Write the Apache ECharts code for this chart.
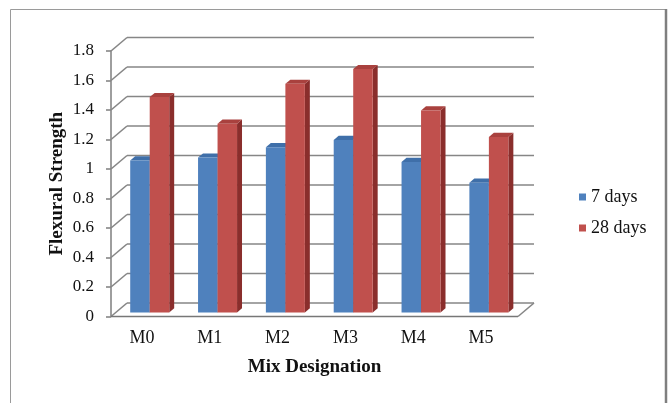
<!DOCTYPE html>
<html>
<head>
<meta charset="utf-8">
<script src="https://cdn.jsdelivr.net/npm/echarts@6/dist/echarts.min.js"></script>
<style>
  html, body { margin: 0; padding: 0; background: #fff; }
  #chart { width: 668px; height: 403px; }
</style>
</head>
<body>
<div id="chart"></div>
<script>
// Flexural strength by mix designation
const categories = ['M0', 'M1', 'M2', 'M3', 'M4', 'M5'];
const days7 = [1.03, 1.05, 1.12, 1.17, 1.02, 0.88];
const days28 = [1.46, 1.28, 1.55, 1.65, 1.37, 1.19];
const yTicks = [0, 0.2, 0.4, 0.6, 0.8, 1, 1.2, 1.4, 1.6, 1.8];

// depth of the 3D box (back wall offset from the front plane)
const DEPTH_X = 16, DEPTH_Y = -13.5;
// bars sit between these fractions of the depth
const BAR_FRONT = 0.3, BAR_BACK = 0.61;
const BAR_RATIO = 0.2875;

const FONT = '"Liberation Serif", "Times New Roman", serif';

const palette = [
  { front: '#4F81BD', top: '#3F6FA9', side: '#2F5582' },
  { front: '#C0504D', top: '#A9413E', side: '#8A2E2C' }
];

function barRenderer(seriesIdx) {
  return function (params, api) {
    const cat = api.value(0);
    const val = api.value(1);
    const base = api.coord([cat, 0]);
    const top = api.coord([cat, val]);
    const band = api.size([1, 0])[0];
    const w = band * BAR_RATIO;
    const x0 = base[0] - w + seriesIdx * w;
    const x1 = x0 + w;
    const fx = DEPTH_X * BAR_FRONT, fy = DEPTH_Y * BAR_FRONT;
    const bx = DEPTH_X * BAR_BACK, by = DEPTH_Y * BAR_BACK;
    const yb = base[1], yt = top[1];
    const c = palette[seriesIdx];
    return {
      type: 'group',
      children: [
        { type: 'polygon', shape: { points: [[x1 + fx, yt + fy], [x1 + bx, yt + by], [x1 + bx, yb + by], [x1 + fx, yb + fy]] }, style: { fill: c.side } },
        { type: 'polygon', shape: { points: [[x0 + fx, yt + fy], [x1 + fx, yt + fy], [x1 + bx, yt + by], [x0 + bx, yt + by]] }, style: { fill: c.top } },
        { type: 'rect', shape: { x: x0 + fx, y: yt + fy, width: w, height: yb - yt }, style: { fill: c.front } }
      ]
    };
  };
}

// back wall gridlines, slanted ticks and floor
function wallRenderer(params, api) {
  const cs = params.coordSys;
  const v = api.value(1);
  const y = api.coord([0, v])[1];
  const left = cs.x, right = cs.x + cs.width;
  const lineStyle = { stroke: '#868686', lineWidth: 1.6 };
  const children = [
    { type: 'line', shape: { x1: left + DEPTH_X, y1: y + DEPTH_Y, x2: right + DEPTH_X, y2: y + DEPTH_Y }, style: lineStyle },
    { type: 'line', shape: { x1: left, y1: y, x2: left + DEPTH_X, y2: y + DEPTH_Y }, style: lineStyle }
  ];
  if (v === 0) {
    children.push(
      { type: 'line', shape: { x1: left, y1: y, x2: right, y2: y }, style: { stroke: '#777', lineWidth: 1.6 } },
      { type: 'line', shape: { x1: right, y1: y, x2: right + DEPTH_X, y2: y + DEPTH_Y }, style: lineStyle }
    );
  }
  return { type: 'group', children: children };
}

const chart = echarts.init(document.getElementById('chart'), null, { renderer: 'canvas' });

chart.setOption({
  animation: false,
  backgroundColor: '#fff',
  graphic: [
    { type: 'rect', shape: { x: 10.5, y: 9.5, width: 655, height: 400 }, style: { fill: 'none', stroke: '#9a9a9a', lineWidth: 1 }, z: 0 },
    { type: 'line', shape: { x1: 666, y1: 9, x2: 666, y2: 403 }, style: { stroke: '#7f7f7f', lineWidth: 2.5 }, z: 0 }
  ],
  grid: { left: 111, right: 150, top: 51, bottom: 86.5 },
  legend: {
    orient: 'vertical',
    left: 574,
    top: 183,
    itemWidth: 7,
    itemHeight: 7,
    itemGap: 13,
    icon: 'rect',
    data: ['7 days', '28 days'],
    textStyle: { fontFamily: FONT, fontSize: 18, color: '#111' }
  },
  xAxis: {
    type: 'category',
    data: categories,
    axisLine: { show: false },
    axisTick: { show: false },
    axisLabel: { fontFamily: FONT, fontSize: 18, color: '#111', margin: 13, padding: [0, 6, 0, 0] },
    name: 'Mix Designation',
    nameLocation: 'middle',
    nameGap: 41,
    nameMoveOverlap: false,
    nameTextStyle: { fontFamily: FONT, fontSize: 19, fontWeight: 'bold', color: '#111' }
  },
  yAxis: {
    type: 'value',
    min: 0,
    max: 1.8,
    interval: 0.2,
    axisLine: { show: true, lineStyle: { color: '#868686', width: 1.6 } },
    axisTick: { show: true, length: 5, lineStyle: { color: '#868686', width: 1.6 } },
    splitLine: { show: false },
    axisLabel: { fontFamily: FONT, fontSize: 17, color: '#111', margin: 17 },
    name: 'Flexural Strength',
    nameLocation: 'middle',
    nameRotate: 90,
    nameGap: 44,
    nameMoveOverlap: false,
    nameTextStyle: { fontFamily: FONT, fontSize: 19, fontWeight: 'bold', color: '#111' }
  },
  series: [
    {
      type: 'custom',
      name: 'wall',
      renderItem: wallRenderer,
      data: yTicks.map(v => [0, v]),
      silent: true,
      z: 1
    },
    {
      type: 'custom',
      name: '7 days',
      itemStyle: { color: palette[0].front },
      renderItem: barRenderer(0),
      data: days7.map((v, i) => [i, v]),
      z: 2
    },
    {
      type: 'custom',
      name: '28 days',
      itemStyle: { color: palette[1].front },
      renderItem: barRenderer(1),
      data: days28.map((v, i) => [i, v]),
      z: 3
    }
  ]
});
</script>
</body>
</html>
